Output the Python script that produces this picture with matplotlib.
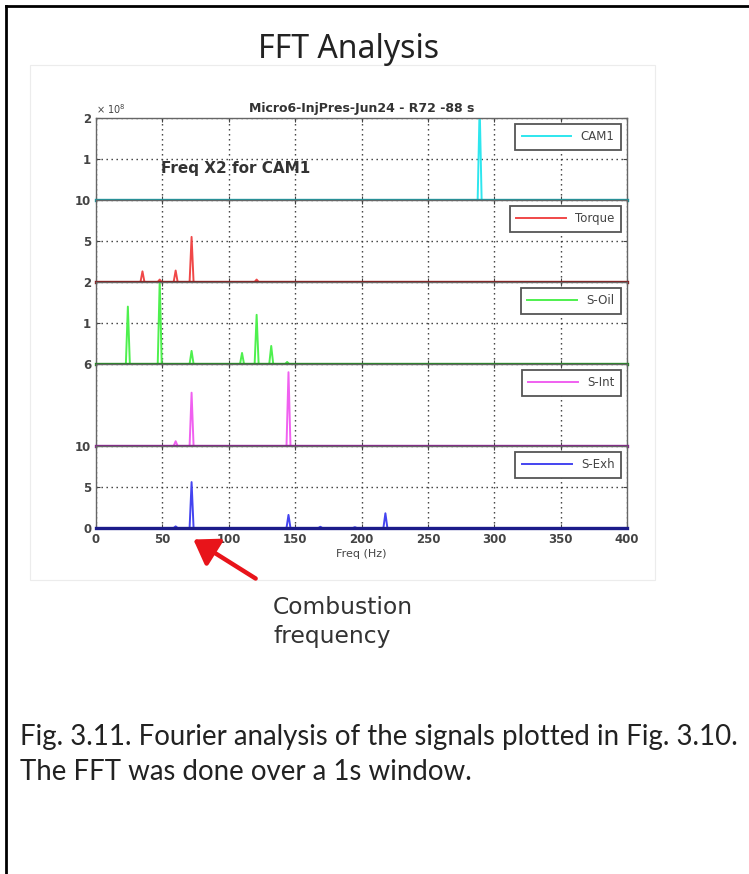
import numpy as np
import matplotlib.pyplot as plt
from matplotlib.patches import Rectangle, FancyArrowPatch
from matplotlib.lines import Line2D

# series (peaks, Hz / amplitude in axis units)
names = ['CAM1', 'Torque', 'S-Oil', 'S-Int', 'S-Exh']
peak_freqs = [
    [289],
    [35, 48, 60, 72, 121],
    [24, 48, 72, 110, 121, 132, 144],
    [60, 72, 145],
    [60, 72, 145, 169, 195, 218],
]
peak_amps = [
    [2.3],
    [1.3, 0.3, 1.4, 5.5, 0.3],
    [1.4, 2.05, 0.32, 0.27, 1.2, 0.44, 0.05],
    [0.35, 3.9, 5.4],
    [0.2, 5.6, 1.6, 0.15, 0.1, 1.8],
]
y_tops = [2, 10, 2, 6, 10]
y_ticks = [[0, 1, 2], [0, 5, 10], [0, 1, 2], [0, 6], [0, 5, 10]]
x_ticks = [0, 50, 100, 150, 200, 250, 300, 350, 400]

line_colors = ['#2ee6ee', '#f04848', '#4ef04e', '#f060f0', '#4444f0']
base_colors = ['#1a9aa2', '#8a1a1a', '#238a23', '#8a2290', '#1c1c8a']


def spike_line(freqs, amps, half_width=1.5):
    xs = [0.0]
    ys = [0.0]
    for f, a in zip(freqs, amps):
        xs += [f - half_width, f, f + half_width]
        ys += [0.0, a, 0.0]
    xs.append(400.0)
    ys.append(0.0)
    return xs, ys


def main():
    W, H = 749, 874
    fig = plt.figure(figsize=(W / 100, H / 100), dpi=100)

    # page border + pasted image frame
    fig.add_artist(Line2D([6 / W, 1], [1 - 6 / H, 1 - 6 / H], color='black', lw=2.0))
    fig.add_artist(Line2D([6 / W, 6 / W], [0, 1 - 6 / H], color='black', lw=2.0))
    fig.add_artist(Rectangle((30 / W, 1 - 580 / H), 625 / W, 515 / H,
                             fill=False, edgecolor='#ececec', lw=0.8))

    left, right = 96 / W, 627 / W
    top, row_h = 118, 82
    axes = []
    for i in range(5):
        y0 = 1 - (top + row_h * (i + 1)) / H
        ax = fig.add_axes([left, y0, right - left, row_h / H])
        xs, ys = spike_line(peak_freqs[i], peak_amps[i])
        ax.plot(xs, ys, color=line_colors[i], lw=1.4, label=names[i])
        ax.set_xlim(0, 400)
        ax.set_ylim(0, y_tops[i])
        ax.set_xticks(x_ticks)
        ax.set_yticks(y_ticks[i])
        # the 0 label of upper panels sits under the next panel's top label
        ylabels = [str(v) for v in y_ticks[i]]
        if i < 4:
            ylabels[0] = ''
        ax.set_yticklabels(ylabels)
        ax.grid(True, color='#333333', linestyle=(0, (1, 2.6)), lw=1.0)
        for s in ['top', 'left', 'right']:
            ax.spines[s].set_color('#666666')
            ax.spines[s].set_linewidth(1.0)
        ax.spines['bottom'].set_color(base_colors[i])
        ax.spines['bottom'].set_linewidth(2.4)
        ax.tick_params(labelsize=8.5, colors='#444444', length=3, direction='in',
                       top=True, right=True)
        for lab in ax.get_yticklabels():
            lab.set_fontweight('bold')
        if i < 4:
            ax.tick_params(labelbottom=False)
        else:
            for lab in ax.get_xticklabels():
                lab.set_fontweight('bold')
        leg = ax.legend(loc='upper right', fontsize=8.5, handlelength=4.2,
                        fancybox=False, edgecolor='#555555', framealpha=1,
                        borderaxespad=0.5, borderpad=0.55)
        leg.get_frame().set_linewidth(1.3)
        for t in leg.get_texts():
            t.set_color('#444444')
        axes.append(ax)

    axes[0].set_title('Micro6-InjPres-Jun24 - R72 -88 s', fontsize=9, fontweight='bold',
                      color='#333333', pad=4)
    axes[0].text(0.0, 1.03, '× 10$^8$', transform=axes[0].transAxes, fontsize=7,
                 color='#444444', ha='left', va='bottom')
    axes[0].text(49, 0.78, 'Freq X2 for CAM1', fontsize=11, fontweight='bold',
                 color='#333333', va='center')
    axes[4].set_xlabel('Freq (Hz)', fontsize=8, color='#444444', labelpad=2)

    fig.text(349 / W, 1 - 50 / H, 'FFT Analysis', fontsize=23, ha='center', va='center',
             family='Noto Sans', color='#222222')

    # combustion arrow
    arrow = FancyArrowPatch((258 / W, 1 - 580 / H), (191 / W, 1 - 538 / H),
                            transform=fig.transFigure, arrowstyle='-|>,head_length=9,head_width=6',
                            color='#e8141a', lw=3.2, mutation_scale=1.6)
    fig.add_artist(arrow)
    fig.text(273 / W, 1 - 608 / H, 'Combustion', fontsize=16.8, ha='left', va='center',
             color='#333333', family='DejaVu Sans')
    fig.text(273 / W, 1 - 637 / H, 'frequency', fontsize=16.8, ha='left', va='center',
             color='#333333', family='DejaVu Sans')

    fig.text(20 / W, 1 - 737 / H, 'Fig. 3.11. Fourier analysis of the signals plotted in Fig. 3.10.',
             fontsize=19.9, ha='left', va='center', family='Lato', color='#222222')
    fig.text(20 / W, 1 - 772 / H, 'The FFT was done over a 1s window.',
             fontsize=19.9, ha='left', va='center', family='Lato', color='#222222')

    fig.savefig('out.png', dpi=100)


if __name__ == '__main__':
    main()
